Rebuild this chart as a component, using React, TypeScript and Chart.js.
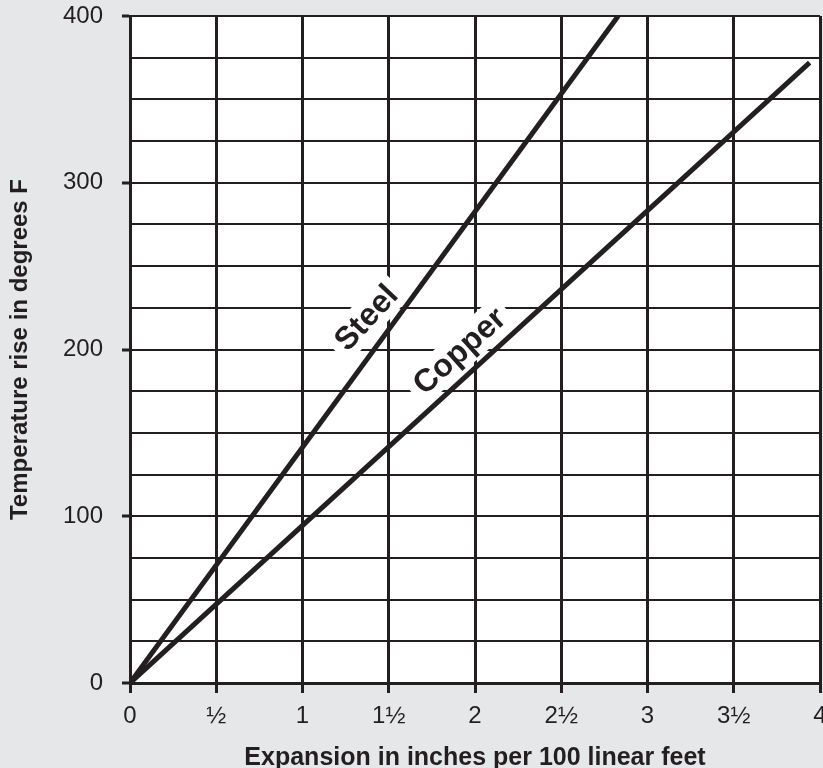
import React, { useEffect, useRef } from 'react';
import { Chart, registerables } from 'chart.js';

Chart.register(...registerables);

// ---- data ----
const xTickValues = [0, 0.5, 1, 1.5, 2, 2.5, 3, 3.5, 4];
const xTickLabels = ['0', '½', '1', '1½', '2', '2½', '3', '3½', '4'];
const yLabelValues = [0, 100, 200, 300, 400];

const steelX = [0, 2.83];
const steelY = [0, 400];
const copperX = [0, 3.94];
const copperY = [0, 372];

const seriesNames = ['Steel', 'Copper'];
const labelX = [1.37, 1.91];
const labelY = [219, 199];

const xTitle = 'Expansion in inches per 100 linear feet';
const yTitle = 'Temperature rise in degrees F';

const INK = '#231f20';
const BG = '#e6e7e8';
const FONT = '"Liberation Sans", Arial, Helvetica, sans-serif';
const labelAngles = [-47, -42];

const backgroundPlugin = {
  id: 'bgPlugin',
  beforeDraw(chart: any) {
    const { ctx, chartArea, width, height } = chart;
    ctx.save();
    ctx.fillStyle = BG;
    ctx.fillRect(0, 0, width, height);
    ctx.fillStyle = '#ffffff';
    ctx.fillRect(chartArea.left, chartArea.top, chartArea.right - chartArea.left, chartArea.bottom - chartArea.top);
    ctx.restore();
  },
};

const lineLabelPlugin = {
  id: 'lineLabels',
  beforeDatasetsDraw(chart: any) {
    const { ctx } = chart;
    const xs = chart.scales.x;
    const ys = chart.scales.y;
    seriesNames.forEach((name, i) => {
      const px = xs.getPixelForValue(labelX[i]);
      const py = ys.getPixelForValue(labelY[i]);
      ctx.save();
      ctx.translate(px, py);
      ctx.rotate((labelAngles[i] * Math.PI) / 180);
      ctx.font = `bold 32px ${FONT}`;
      const w = ctx.measureText(name).width;
      ctx.fillStyle = '#ffffff';
      ctx.fillRect(-w / 2 - 7, -18, w + 14, 36);
      ctx.fillStyle = INK;
      ctx.textAlign = 'center';
      ctx.textBaseline = 'middle';
      ctx.fillText(name, 0, 1);
      ctx.restore();
    });
  },
};

export default function App() {
  const canvasRef = useRef<HTMLCanvasElement | null>(null);

  useEffect(() => {
    const canvas = canvasRef.current;
    if (!canvas) return;
    const toPoints = (xs: number[], ys: number[]) => xs.map((x, i) => ({ x, y: ys[i] }));
    const chart = new Chart(canvas, {
      type: 'scatter',
      data: {
        datasets: [
          {
            label: seriesNames[0],
            data: toPoints(steelX, steelY),
            showLine: true,
            borderColor: INK,
            borderWidth: 5,
            pointRadius: 0,
            borderCapStyle: 'butt',
          },
          {
            label: seriesNames[1],
            data: toPoints(copperX, copperY),
            showLine: true,
            borderColor: INK,
            borderWidth: 5,
            pointRadius: 0,
            borderCapStyle: 'butt',
          },
        ],
      },
      options: {
        animation: false,
        responsive: false,
        devicePixelRatio: 1,
        layout: { padding: { top: 16, right: 3, left: 0, bottom: 0 } },
        plugins: { legend: { display: false }, tooltip: { enabled: false } },
        scales: {
          x: {
            type: 'linear',
            min: 0,
            max: 4,
            afterBuildTicks(scale: any) {
              scale.ticks = xTickValues.map((v) => ({ value: v }));
            },
            afterFit(scale: any) {
              scale.height = 85;
              scale.paddingLeft = 0;
              scale.paddingRight = 0;
            },
            grid: {
              color: INK,
              lineWidth: 3,
              tickLength: 10,
              tickColor: INK,
              tickWidth: 3,
            },
            border: { display: true, color: INK, width: 3 },
            ticks: {
              autoSkip: false,
              maxRotation: 0,
              padding: 9,
              color: INK,
              font: { family: FONT, size: 24 },
              callback: (v: any) => {
                const idx = xTickValues.indexOf(Number(v));
                return idx >= 0 ? xTickLabels[idx] : '';
              },
            },
            title: {
              display: true,
              text: xTitle,
              color: INK,
              font: { family: FONT, size: 25, weight: 'bold', lineHeight: 1.2 },
              padding: { top: 0, bottom: -5 },
            },
          },
          y: {
            type: 'linear',
            min: 0,
            max: 400,
            ticks: {
              stepSize: 25,
              padding: 19,
              color: INK,
              font: { family: FONT, size: 24 },
              callback: (v: any) => (yLabelValues.includes(Number(v)) ? String(v) : ''),
            },
            afterFit(scale: any) {
              scale.width = 130;
              scale.paddingTop = 0;
              scale.paddingBottom = 0;
            },
            grid: {
              color: INK,
              lineWidth: 2,
              tickLength: 8,
              tickWidth: 3,
              tickColor: (ctx: any) =>
                ctx.tick && yLabelValues.includes(ctx.tick.value) ? INK : 'rgba(0,0,0,0)',
            },
            border: { display: true, color: INK, width: 3 },
            title: {
              display: true,
              text: yTitle,
              color: INK,
              font: { family: FONT, size: 24, weight: 'bold', lineHeight: 1.2 },
              padding: { top: 6, bottom: 0 },
            },
          },
        },
      },
      plugins: [backgroundPlugin, lineLabelPlugin],
    } as any);
    return () => chart.destroy();
  }, []);

  return (
    <div
      style={{
        position: 'fixed',
        left: 0,
        top: 0,
        width: 823,
        height: 768,
        overflow: 'hidden',
        background: BG,
      }}
    >
      <canvas ref={canvasRef} width={823} height={768} style={{ display: 'block' }} />
    </div>
  );
}
